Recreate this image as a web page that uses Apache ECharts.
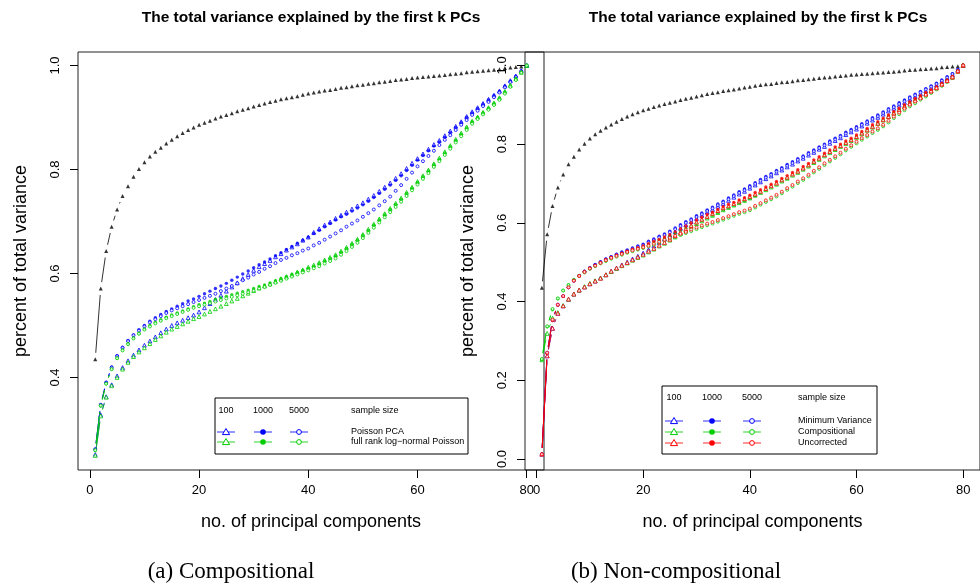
<!DOCTYPE html>
<html>
<head>
<meta charset="utf-8">
<title>The total variance explained by the first k PCs</title>
<script src="https://cdn.jsdelivr.net/npm/echarts@6/dist/echarts.min.js"></script>
<style>
  html, body { margin: 0; padding: 0; background: #fff; }
  #chart { width: 980px; height: 587px; }
</style>
</head>
<body>
<div id="chart"></div>
<script>
// number of principal components k = 1..80
const components = Array.from({ length: 80 }, (_, i) => i + 1);
const xTicks = [0, 20, 40, 60, 80];
const leftYTicks = [0.4, 0.6, 0.8, 1.0];
const rightYTicks = [0, 0.2, 0.4, 0.6, 0.8, 1.0];
const sampleSizes = ["100", "1000", "5000"];
const leftMethods = ["Poisson PCA", "full rank log\u2212normal Poisson"];
const rightMethods = ["Minimum Variance", "Compositional", "Uncorrected"];

// true cumulative variance (black triangles, same in both panels)
const trueVar = [
  0.435,0.571,0.643,0.690,0.723,0.749,0.768,0.786,0.801,0.814,
  0.825,0.834,0.842,0.850,0.857,0.864,0.870,0.876,0.881,0.886,
  0.890,0.894,0.898,0.902,0.905,0.908,0.912,0.915,0.918,0.921,
  0.924,0.927,0.930,0.932,0.935,0.937,0.939,0.941,0.944,0.946,
  0.948,0.950,0.952,0.953,0.955,0.957,0.958,0.960,0.962,0.963,
  0.965,0.966,0.968,0.969,0.970,0.972,0.973,0.974,0.976,0.977,
  0.978,0.979,0.980,0.981,0.982,0.983,0.984,0.985,0.987,0.988,
  0.989,0.990,0.991,0.992,0.993,0.995,0.996,0.997,0.998,1.000
];

// (a) compositional: Poisson PCA (blue)
const pcaN100 = [
  0.252,0.328,0.363,0.386,0.403,0.419,0.432,0.443,0.453,0.462,
  0.470,0.478,0.486,0.493,0.500,0.505,0.510,0.515,0.520,0.526,
  0.534,0.542,0.550,0.558,0.566,0.574,0.582,0.590,0.598,0.606,
  0.613,0.619,0.625,0.632,0.638,0.645,0.651,0.657,0.664,0.670,
  0.679,0.686,0.693,0.699,0.706,0.712,0.718,0.724,0.730,0.736,
  0.743,0.750,0.758,0.766,0.774,0.783,0.792,0.802,0.812,0.821,
  0.830,0.839,0.848,0.856,0.865,0.874,0.883,0.892,0.902,0.911,
  0.919,0.927,0.935,0.943,0.951,0.961,0.971,0.980,0.990,1.000
];
const pcaN1000 = [
  0.262,0.348,0.391,0.420,0.442,0.458,0.471,0.482,0.492,0.500,
  0.508,0.515,0.521,0.527,0.532,0.537,0.542,0.547,0.551,0.556,
  0.561,0.566,0.571,0.576,0.581,0.587,0.593,0.599,0.605,0.611,
  0.617,0.622,0.628,0.634,0.640,0.646,0.652,0.658,0.664,0.670,
  0.677,0.683,0.690,0.696,0.703,0.709,0.714,0.720,0.726,0.732,
  0.739,0.746,0.754,0.762,0.770,0.779,0.788,0.798,0.808,0.818,
  0.827,0.836,0.845,0.853,0.862,0.871,0.881,0.890,0.900,0.909,
  0.917,0.925,0.934,0.942,0.950,0.960,0.970,0.979,0.989,1.000
];
const pcaN5000 = [
  0.262,0.347,0.390,0.419,0.441,0.457,0.470,0.481,0.490,0.498,
  0.506,0.512,0.518,0.524,0.529,0.533,0.537,0.541,0.545,0.549,
  0.553,0.557,0.561,0.566,0.571,0.576,0.581,0.587,0.592,0.598,
  0.603,0.609,0.614,0.620,0.626,0.630,0.635,0.639,0.644,0.648,
  0.654,0.659,0.665,0.671,0.677,0.683,0.690,0.696,0.702,0.709,
  0.716,0.723,0.731,0.739,0.748,0.759,0.770,0.782,0.794,0.806,
  0.816,0.826,0.836,0.847,0.857,0.866,0.876,0.886,0.895,0.905,
  0.913,0.922,0.930,0.939,0.948,0.958,0.968,0.978,0.989,1.000
];

// (a) compositional: full rank log-normal Poisson (green)
const lnN100 = [
  0.250,0.326,0.362,0.384,0.400,0.416,0.429,0.440,0.449,0.457,
  0.465,0.473,0.480,0.487,0.493,0.498,0.503,0.508,0.513,0.517,
  0.522,0.527,0.532,0.537,0.542,0.547,0.552,0.557,0.562,0.567,
  0.572,0.576,0.580,0.585,0.590,0.594,0.598,0.603,0.607,0.612,
  0.616,0.621,0.626,0.631,0.636,0.643,0.650,0.658,0.666,0.675,
  0.685,0.695,0.705,0.715,0.725,0.735,0.745,0.756,0.766,0.777,
  0.788,0.799,0.811,0.822,0.834,0.846,0.858,0.870,0.882,0.893,
  0.901,0.910,0.919,0.928,0.938,0.950,0.962,0.975,0.987,1.000
];
const lnN1000 = [
  0.260,0.345,0.388,0.416,0.437,0.453,0.465,0.476,0.485,0.493,
  0.500,0.506,0.511,0.516,0.520,0.524,0.528,0.532,0.536,0.540,
  0.543,0.546,0.550,0.553,0.556,0.559,0.562,0.565,0.568,0.571,
  0.575,0.578,0.582,0.586,0.590,0.594,0.598,0.602,0.606,0.610,
  0.614,0.619,0.624,0.629,0.634,0.641,0.648,0.656,0.664,0.673,
  0.683,0.693,0.703,0.713,0.723,0.733,0.743,0.754,0.764,0.775,
  0.786,0.797,0.809,0.820,0.832,0.844,0.856,0.868,0.880,0.892,
  0.900,0.909,0.918,0.927,0.937,0.949,0.961,0.974,0.987,1.000
];
const lnN5000 = [
  0.260,0.346,0.388,0.416,0.437,0.452,0.464,0.475,0.484,0.492,
  0.498,0.504,0.509,0.514,0.518,0.522,0.526,0.530,0.534,0.537,
  0.540,0.543,0.546,0.549,0.552,0.555,0.558,0.561,0.564,0.567,
  0.571,0.574,0.578,0.582,0.586,0.590,0.594,0.598,0.602,0.606,
  0.610,0.614,0.619,0.624,0.629,0.636,0.643,0.651,0.659,0.668,
  0.678,0.688,0.698,0.708,0.718,0.728,0.738,0.749,0.760,0.771,
  0.782,0.793,0.805,0.816,0.828,0.840,0.852,0.864,0.876,0.888,
  0.897,0.906,0.915,0.924,0.934,0.946,0.959,0.972,0.986,1.000
];

// (b) non-compositional: Minimum Variance (blue)
const mvN100 = [
  0.012,0.262,0.332,0.370,0.389,0.406,0.419,0.429,0.437,0.445,
  0.452,0.460,0.468,0.477,0.485,0.493,0.500,0.508,0.515,0.523,
  0.532,0.541,0.550,0.559,0.568,0.577,0.586,0.595,0.603,0.611,
  0.619,0.627,0.634,0.642,0.649,0.657,0.665,0.673,0.680,0.688,
  0.696,0.704,0.712,0.719,0.727,0.734,0.742,0.749,0.757,0.764,
  0.772,0.779,0.787,0.794,0.802,0.809,0.816,0.824,0.831,0.838,
  0.846,0.853,0.861,0.868,0.876,0.884,0.891,0.899,0.906,0.914,
  0.921,0.928,0.935,0.943,0.950,0.959,0.967,0.976,0.988,1.000
];
const mvN1000 = [
  0.012,0.268,0.352,0.391,0.413,0.436,0.453,0.466,0.477,0.486,
  0.494,0.501,0.508,0.514,0.520,0.526,0.531,0.536,0.541,0.546,
  0.553,0.559,0.566,0.572,0.579,0.587,0.595,0.603,0.610,0.618,
  0.625,0.633,0.640,0.648,0.655,0.663,0.671,0.679,0.686,0.694,
  0.702,0.710,0.718,0.725,0.733,0.740,0.748,0.755,0.763,0.770,
  0.778,0.785,0.793,0.800,0.808,0.815,0.822,0.830,0.837,0.844,
  0.852,0.859,0.867,0.874,0.882,0.890,0.897,0.905,0.912,0.920,
  0.927,0.934,0.941,0.948,0.955,0.963,0.971,0.979,0.989,1.000
];
const mvN5000 = [
  0.012,0.270,0.354,0.392,0.414,0.436,0.453,0.465,0.476,0.485,
  0.493,0.500,0.507,0.513,0.519,0.524,0.529,0.534,0.539,0.543,
  0.550,0.556,0.563,0.569,0.576,0.584,0.592,0.600,0.607,0.615,
  0.622,0.630,0.637,0.645,0.652,0.660,0.668,0.676,0.683,0.691,
  0.699,0.707,0.715,0.722,0.730,0.737,0.745,0.752,0.760,0.767,
  0.775,0.782,0.790,0.797,0.805,0.812,0.819,0.827,0.834,0.841,
  0.849,0.856,0.864,0.871,0.879,0.887,0.894,0.902,0.909,0.917,
  0.924,0.931,0.939,0.946,0.953,0.961,0.969,0.978,0.989,1.000
];

// (b) non-compositional: Compositional (green)
const compN100 = [
  0.252,0.319,0.358,0.372,0.390,0.406,0.419,0.429,0.438,0.446,
  0.453,0.460,0.468,0.476,0.484,0.491,0.498,0.505,0.512,0.518,
  0.526,0.533,0.541,0.548,0.556,0.564,0.573,0.581,0.590,0.598,
  0.605,0.612,0.619,0.626,0.633,0.639,0.645,0.651,0.657,0.663,
  0.670,0.677,0.684,0.691,0.698,0.706,0.713,0.721,0.728,0.736,
  0.744,0.753,0.761,0.770,0.778,0.786,0.794,0.801,0.809,0.817,
  0.826,0.835,0.843,0.852,0.861,0.870,0.878,0.887,0.895,0.904,
  0.912,0.920,0.927,0.935,0.943,0.952,0.961,0.970,0.985,1.000
];
const compN1000 = [
  0.253,0.336,0.379,0.407,0.428,0.442,0.455,0.465,0.475,0.484,
  0.491,0.498,0.504,0.510,0.516,0.521,0.526,0.530,0.534,0.538,
  0.544,0.549,0.555,0.560,0.566,0.573,0.579,0.586,0.592,0.599,
  0.606,0.613,0.619,0.626,0.633,0.639,0.645,0.651,0.656,0.662,
  0.669,0.677,0.684,0.692,0.699,0.707,0.714,0.722,0.729,0.737,
  0.745,0.754,0.762,0.771,0.779,0.787,0.795,0.802,0.810,0.818,
  0.827,0.836,0.844,0.853,0.862,0.871,0.879,0.888,0.896,0.905,
  0.913,0.921,0.928,0.936,0.944,0.953,0.962,0.971,0.985,1.000
];
const compN5000 = [
  0.254,0.337,0.381,0.408,0.428,0.442,0.455,0.465,0.474,0.483,
  0.490,0.497,0.503,0.509,0.514,0.519,0.524,0.528,0.532,0.536,
  0.540,0.544,0.549,0.554,0.559,0.564,0.569,0.574,0.579,0.584,
  0.589,0.594,0.598,0.603,0.608,0.613,0.618,0.623,0.627,0.632,
  0.639,0.646,0.653,0.660,0.667,0.675,0.684,0.692,0.701,0.709,
  0.718,0.728,0.737,0.747,0.756,0.765,0.774,0.784,0.793,0.802,
  0.811,0.819,0.828,0.836,0.845,0.855,0.866,0.876,0.886,0.896,
  0.904,0.913,0.921,0.930,0.939,0.948,0.958,0.968,0.984,1.000
];

// (b) non-compositional: Uncorrected (red)
const ucN100 = [
  0.012,0.262,0.332,0.370,0.389,0.406,0.419,0.429,0.437,0.445,
  0.452,0.459,0.468,0.477,0.485,0.492,0.499,0.506,0.513,0.520,
  0.528,0.535,0.543,0.550,0.558,0.567,0.576,0.584,0.593,0.602,
  0.609,0.616,0.624,0.631,0.638,0.643,0.649,0.655,0.661,0.667,
  0.673,0.680,0.687,0.694,0.701,0.709,0.716,0.724,0.731,0.739,
  0.747,0.756,0.764,0.773,0.781,0.789,0.796,0.804,0.811,0.819,
  0.828,0.836,0.845,0.853,0.862,0.870,0.879,0.887,0.896,0.904,
  0.912,0.919,0.927,0.935,0.943,0.952,0.961,0.970,0.985,1.000
];
const ucN1000 = [
  0.012,0.268,0.352,0.391,0.413,0.436,0.453,0.465,0.476,0.485,
  0.492,0.499,0.506,0.512,0.518,0.523,0.528,0.533,0.537,0.541,
  0.547,0.553,0.558,0.564,0.570,0.577,0.585,0.592,0.600,0.607,
  0.614,0.621,0.627,0.634,0.641,0.647,0.652,0.658,0.664,0.670,
  0.677,0.684,0.691,0.698,0.705,0.713,0.720,0.728,0.735,0.743,
  0.751,0.760,0.768,0.777,0.785,0.793,0.800,0.808,0.815,0.823,
  0.832,0.840,0.849,0.857,0.866,0.874,0.883,0.891,0.900,0.908,
  0.916,0.923,0.931,0.938,0.946,0.955,0.963,0.972,0.986,1.000
];
const ucN5000 = [
  0.012,0.270,0.354,0.392,0.414,0.436,0.453,0.465,0.475,0.484,
  0.491,0.498,0.505,0.511,0.516,0.521,0.526,0.530,0.534,0.538,
  0.542,0.547,0.552,0.557,0.562,0.567,0.572,0.577,0.583,0.588,
  0.593,0.598,0.602,0.607,0.612,0.617,0.622,0.627,0.631,0.636,
  0.643,0.650,0.657,0.664,0.671,0.679,0.688,0.696,0.705,0.713,
  0.722,0.732,0.741,0.751,0.760,0.769,0.778,0.788,0.797,0.806,
  0.815,0.823,0.832,0.840,0.849,0.859,0.870,0.880,0.890,0.900,
  0.908,0.916,0.925,0.933,0.942,0.951,0.960,0.970,0.985,1.000
];

const BLUE = "#0000ff", GREEN = "#00cd00", RED = "#ff0000", BLACK = "#000000";
const SANS = '"Liberation Sans", Arial, sans-serif';
const SERIF = '"Liberation Serif", "Times New Roman", serif';
const GAP = 6.5; // R type="b": lines stop short of each point

// marker per sample size: 100 open triangle, 1000 filled circle, 5000 open circle
const markers = [
  { symbol: "triangle", open: true, size: 3.8 },
  { symbol: "circle", open: false, size: 3.4 },
  { symbol: "circle", open: true, size: 3 }
];

function dots(vals, color, m, g) {
  return {
    type: "scatter", xAxisIndex: g, yAxisIndex: g, silent: true,
    symbol: m.symbol, symbolSize: m.size,
    data: components.map((k, i) => [k, vals[i]]),
    itemStyle: m.open ? { color: "#fff", borderColor: color, borderWidth: 1 } : { color: color }
  };
}

function gapLine(vals, color, g) {
  const data = [];
  for (let i = 0; i < vals.length - 1; i++) {
    data.push([components[i], vals[i], components[i + 1], vals[i + 1]]);
  }
  return {
    type: "custom", xAxisIndex: g, yAxisIndex: g, silent: true,
    encode: { x: [0, 2], y: [1, 3] },
    data: data,
    renderItem: function (params, api) {
      const p = api.coord([api.value(0), api.value(1)]);
      const q = api.coord([api.value(2), api.value(3)]);
      const dx = q[0] - p[0], dy = q[1] - p[1];
      const len = Math.sqrt(dx * dx + dy * dy);
      if (len <= 2 * GAP) return { type: "group", children: [] };
      const ux = dx / len, uy = dy / len;
      return {
        type: "line",
        shape: { x1: p[0] + ux * GAP, y1: p[1] + uy * GAP, x2: q[0] - ux * GAP, y2: q[1] - uy * GAP },
        style: { stroke: color, lineWidth: 1, opacity: 0.8 }
      };
    }
  };
}

function group(list, color, g) {
  const out = [];
  list.forEach((vals, j) => {
    out.push(gapLine(vals, color, g));
    out.push(dots(vals, color, markers[j], g));
  });
  return out;
}

const blackMarker = { symbol: "triangle", open: false, size: 4 };

const series = [].concat(
  [gapLine(trueVar, BLACK, 0), dots(trueVar, BLACK, blackMarker, 0)],
  group([pcaN100, pcaN1000, pcaN5000], BLUE, 0),
  group([lnN100, lnN1000, lnN5000], GREEN, 0),
  [gapLine(trueVar, BLACK, 1), dots(trueVar, BLACK, blackMarker, 1)],
  group([mvN100, mvN1000, mvN5000], BLUE, 1),
  group([compN100, compN1000, compN5000], GREEN, 1),
  group([ucN100, ucN1000, ucN5000], RED, 1)
);

function xAxis(g) {
  return {
    type: "value", gridIndex: g, min: -2.16, max: 83.16,
    name: "no. of principal components", nameLocation: "middle", nameGap: 43,
    nameTextStyle: { fontFamily: SANS, fontSize: 18, color: "#000" },
    axisLine: { show: false, onZero: false },
    axisTick: { show: true, length: 8, customValues: xTicks, lineStyle: { color: "#000" } },
    axisLabel: { customValues: xTicks, margin: 14, fontFamily: SANS, fontSize: 13, color: "#000" },
    splitLine: { show: false }
  };
}

function yAxis(g, min, max, ticks) {
  return {
    type: "value", gridIndex: g, min: min, max: max,
    name: "percent of total variance", nameLocation: "middle", nameGap: 48, nameRotate: 90,
    nameTextStyle: { fontFamily: SANS, fontSize: 18, color: "#000" },
    axisLine: { show: false, onZero: false },
    axisTick: { show: true, length: 8, customValues: ticks, lineStyle: { color: "#000" } },
    axisLabel: {
      customValues: ticks, rotate: 90, margin: 16,
      fontFamily: SANS, fontSize: 13, color: "#000",
      formatter: (v) => Number(v).toFixed(1)
    },
    splitLine: { show: false }
  };
}

function text(x, y, str, font, align) {
  return {
    type: "text", x: x, y: y, silent: true,
    style: { text: str, font: font, fill: "#000", align: align || "center", verticalAlign: "middle" }
  };
}

function legendMarker(j, cx, cy, color) {
  if (j === 0) {
    return {
      type: "polygon", silent: true,
      shape: { points: [[cx, cy - 3.5], [cx - 3.6, cy + 2.6], [cx + 3.6, cy + 2.6]] },
      style: { fill: "#fff", stroke: color, lineWidth: 1 }
    };
  }
  return {
    type: "circle", silent: true,
    shape: { cx: cx, cy: cy, r: j === 1 ? 2.8 : 2.4 },
    style: j === 1 ? { fill: color } : { fill: "#fff", stroke: color, lineWidth: 1 }
  };
}

function legend(box, colX, headY, labelX, rowY, names, colors) {
  const els = [{
    type: "rect", silent: true, shape: box,
    style: { fill: "#fff", stroke: "#000", lineWidth: 1 }
  }];
  const font = "9px " + SANS;
  sampleSizes.forEach((s, j) => els.push(text(colX[j], headY, s, font)));
  els.push(text(labelX, headY, "sample size", font, "left"));
  names.forEach((name, r) => {
    const y = rowY[r];
    colX.forEach((cx, j) => {
      els.push({
        type: "line", silent: true,
        shape: { x1: cx - 9, y1: y, x2: cx + 9, y2: y },
        style: { stroke: colors[r], lineWidth: 1.5, opacity: 0.55 }
      });
      els.push(legendMarker(j, cx, y, colors[r]));
    });
    els.push(text(labelX, y, name, font, "left"));
  });
  return els;
}

const titleFont = "bold 15.5px " + SANS;
const captionFont = "23px " + SERIF;

const graphics = [].concat(
  [
    text(311, 18, "The total variance explained by the first k PCs", titleFont),
    text(758, 18, "The total variance explained by the first k PCs", titleFont),
    text(231, 572, "(a) Compositional", captionFont),
    text(676, 572, "(b) Non-compositional", captionFont)
  ],
  legend({ x: 215, y: 398, width: 253, height: 56 }, [226, 263, 299], 411, 351, [432, 442],
    leftMethods, [BLUE, GREEN]),
  legend({ x: 662, y: 386, width: 215, height: 68 }, [674, 712, 752], 398, 798, [421, 432, 443],
    rightMethods, [BLUE, GREEN, RED])
);

const chart = echarts.init(document.getElementById("chart"), null, { renderer: "canvas" });
chart.setOption({
  animation: false,
  backgroundColor: "#fff",
  grid: [
    { left: 78, top: 52, width: 466, height: 418, show: true, borderColor: "#222", borderWidth: 1, backgroundColor: "transparent" },
    { left: 525, top: 52, width: 466, height: 418, show: true, borderColor: "#222", borderWidth: 1, backgroundColor: "transparent" }
  ],
  xAxis: [xAxis(0), xAxis(1)],
  yAxis: [yAxis(0, 0.222, 1.026, leftYTicks), yAxis(1, -0.028, 1.034, rightYTicks)],
  series: series,
  graphic: { elements: graphics }
});
</script>
</body>
</html>
